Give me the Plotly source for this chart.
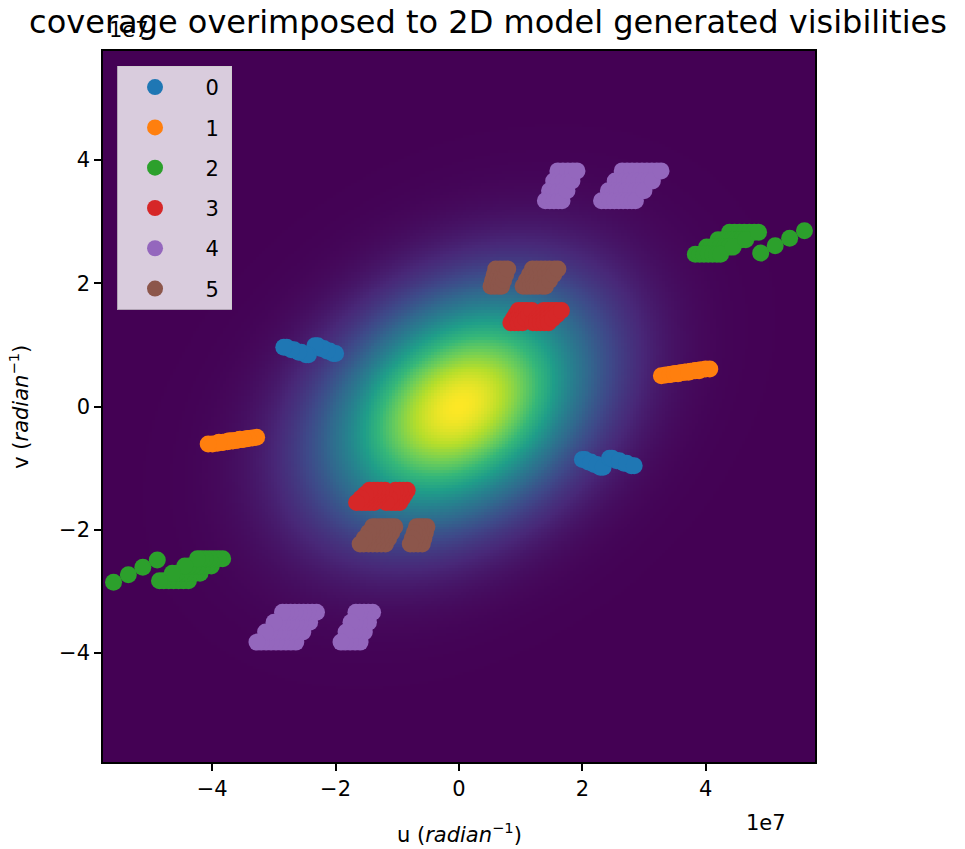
import numpy as np
import plotly.graph_objects as go

# ---------------- data (uv coordinates in units of 1e7 radian^-1) ----------------
# Each baseline: base (u, v) of every time sample (one half of the Hermitian pairs);
# every sample is observed at several frequency channels (relative scale).
channel_scale = [1.0, 1.048, 1.096, 1.145]

labels = ["0", "1", "2", "3", "4", "5"]
colors = ["#1f77b4", "#ff7f0e", "#2ca02c", "#d62728", "#9467bd", "#8c564b"]

base_u_0 = [2.00, 2.04, 2.44, 2.48]
base_v_0 = [-0.86, -0.86, -0.84, -0.84]

base_u_1 = [3.28, 3.35, 3.42, 3.49, 3.55]
base_v_1 = [0.50, 0.51, 0.52, 0.53, 0.53]

base_u_2 = [3.83, 3.90, 3.97, 4.04, 4.11, 4.18, 4.24, 4.89]
base_v_2 = [2.47, 2.47, 2.47, 2.47, 2.47, 2.47, 2.47, 2.49]

base_u_3 = [0.84, 0.90, 0.96, 1.03, 1.20, 1.26, 1.32, 1.38, 1.45]
base_v_3 = [1.36, 1.36, 1.36, 1.36, 1.36, 1.36, 1.36, 1.36, 1.36]

base_u_4 = [1.40, 1.47, 1.54, 1.61, 1.67, 2.31, 2.38, 2.45, 2.52, 2.59, 2.66, 2.73, 2.80, 2.86]
base_v_4 = [3.34] * 14

base_u_5 = [0.52, 0.58, 0.64, 0.69, 1.04, 1.10, 1.16, 1.22, 1.28, 1.35, 1.40]
base_v_5 = [1.95] * 11

bases_u = [base_u_0, base_u_1, base_u_2, base_u_3, base_u_4, base_u_5]
bases_v = [base_v_0, base_v_1, base_v_2, base_v_3, base_v_4, base_v_5]

# 2D Gaussian model of the source visibilities (units of 1e7)
gauss_center = (0.0, 0.0)
gauss_sigma_major = 1.55
gauss_sigma_minor = 1.1
gauss_angle_deg = 35.0

axis_limit = 5.77
tick_values = [-4, -2, 0, 2, 4]
tick_labels = ["\u22124", "\u22122", "0", "2", "4"]

title_text = "coverage overimposed to 2D model generated visibilities"
font_family = "DejaVu Sans"
NBSP = "\u00a0"

# ---------------- model image ----------------
grid = np.linspace(-axis_limit, axis_limit, 241)
gx, gy = np.meshgrid(grid, grid)
th = np.deg2rad(gauss_angle_deg)
xr = (gx - gauss_center[0]) * np.cos(th) + (gy - gauss_center[1]) * np.sin(th)
yr = -(gx - gauss_center[0]) * np.sin(th) + (gy - gauss_center[1]) * np.cos(th)
model = np.exp(-0.5 * ((xr / gauss_sigma_major) ** 2 + (yr / gauss_sigma_minor) ** 2))

fig = go.Figure()
fig.add_trace(go.Heatmap(x=grid, y=grid, z=model, colorscale="Viridis", zmin=0, zmax=1,
                         showscale=False, hoverinfo="skip"))

for lab, col, bu, bv in zip(labels, colors, bases_u, bases_v):
    us, vs = [], []
    for u, v in zip(bu, bv):
        for s in channel_scale:
            us.append(u * s)
            vs.append(v * s)
    # Hermitian conjugate points
    us_all = us + [-u for u in us]
    vs_all = vs + [-v for v in vs]
    fig.add_trace(go.Scatter(x=us_all, y=vs_all, mode="markers",
                             name=NBSP * 2 + lab + NBSP, legendgroup=lab,
                             marker=dict(size=17, color=col, line=dict(width=0))))

axis_common = dict(range=[-axis_limit, axis_limit], showgrid=False, zeroline=False,
                   showline=True, mirror=True, linecolor="black", linewidth=1.5,
                   ticks="outside", ticklen=7, tickwidth=1.5, tickcolor="black",
                   tickvals=tick_values, ticktext=tick_labels,
                   tickfont=dict(family=font_family, size=21, color="black"))

fig.update_layout(
    width=965, height=849,
    margin=dict(l=103, r=150, t=51, b=87),
    paper_bgcolor="white", plot_bgcolor="#440154",
    font=dict(family=font_family, color="black"),
    title=dict(text=title_text, x=(488 - 103) / 712, xref="paper", xanchor="center",
               y=1 - 22 / 849, yref="container", yanchor="middle",
               font=dict(family=font_family, size=32, color="black")),
    xaxis=axis_common, yaxis=axis_common,
    legend=dict(x=0.0197, y=0.979, xanchor="left", yanchor="top",
                bgcolor="rgba(255,255,255,0.8)", bordercolor="rgba(204,204,204,0.8)",
                borderwidth=1, font=dict(family=font_family, size=21, color="black"),
                tracegroupgap=10, itemsizing="trace", itemwidth=64),
    annotations=[
        dict(text="1e7", x=0.006, y=1.0295, xref="paper", yref="paper", xanchor="left",
             yanchor="middle", showarrow=False, font=dict(size=21)),
        dict(text="1e7", x=0.931, y=-0.0858, xref="paper", yref="paper", xanchor="center",
             yanchor="middle", showarrow=False, font=dict(size=21)),
        dict(text="u (<i>radian</i><sup>\u22121</sup>)", x=0.5, y=-0.0999, xref="paper",
             yref="paper", xanchor="center", yanchor="middle", showarrow=False,
             font=dict(size=21)),
        dict(text="v (<i>radian</i><sup>\u22121</sup>)", x=-0.119, y=0.5, xref="paper",
             yref="paper", xanchor="center", yanchor="middle", textangle=-90,
             showarrow=False, font=dict(size=21)),
    ],
)

fig.write_html("out.html")
